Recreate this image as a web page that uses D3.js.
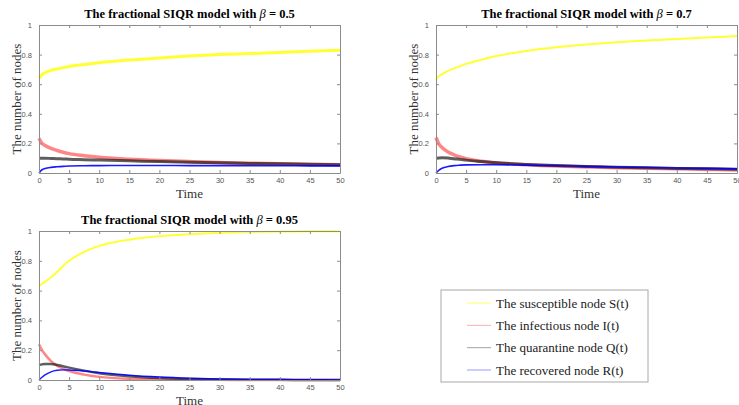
<!DOCTYPE html>
<html>
<head>
<meta charset="utf-8">
<script src="https://cdn.jsdelivr.net/npm/d3@7"></script>
<style>
  body { margin: 0; background: #fff; }
  svg { display: block; }
</style>
</head>
<body>
<script>
// time grid shared by all panels
var time = [0, 0.5, 1, 2, 3, 4, 5, 7.5, 10, 15, 20, 25, 30, 35, 40, 45, 50];

// beta = 0.5
var s05 = [0.64, 0.665, 0.677, 0.693, 0.703, 0.712, 0.72, 0.733, 0.745, 0.763, 0.777, 0.79, 0.80, 0.807, 0.815, 0.822, 0.83];
var i05 = [0.235, 0.2, 0.186, 0.166, 0.152, 0.14, 0.131, 0.117, 0.106, 0.093, 0.084, 0.077, 0.071, 0.066, 0.062, 0.058, 0.055];
var q05 = [0.1, 0.1, 0.1, 0.098, 0.096, 0.095, 0.093, 0.09, 0.087, 0.082, 0.077, 0.073, 0.069, 0.065, 0.062, 0.059, 0.056];
var r05 = [0, 0.022, 0.03, 0.038, 0.042, 0.045, 0.047, 0.049, 0.05, 0.051, 0.051, 0.05, 0.05, 0.049, 0.049, 0.048, 0.048];

// beta = 0.7
var s07 = [0.63, 0.655, 0.668, 0.69, 0.707, 0.722, 0.737, 0.765, 0.79, 0.825, 0.85, 0.868, 0.884, 0.896, 0.906, 0.915, 0.925];
var i07 = [0.24, 0.195, 0.172, 0.142, 0.123, 0.108, 0.097, 0.08, 0.069, 0.056, 0.047, 0.041, 0.036, 0.032, 0.028, 0.024, 0.021];
var q07 = [0.1, 0.102, 0.103, 0.101, 0.096, 0.092, 0.087, 0.078, 0.07, 0.058, 0.05, 0.044, 0.039, 0.035, 0.031, 0.028, 0.025];
var r07 = [0, 0.02, 0.032, 0.044, 0.05, 0.053, 0.055, 0.056, 0.056, 0.053, 0.049, 0.045, 0.041, 0.037, 0.034, 0.031, 0.028];

// beta = 0.95
var s095 = [0.63, 0.645, 0.66, 0.69, 0.725, 0.765, 0.8, 0.86, 0.9, 0.942, 0.965, 0.979, 0.988, 0.993, 0.996, 0.998, 0.999];
var i095 = [0.24, 0.2, 0.172, 0.127, 0.096, 0.075, 0.06, 0.036, 0.021, 0.008, 0.004, 0.002, 0.001, 0.0005, 0, 0, 0];
var q095 = [0.1, 0.105, 0.108, 0.108, 0.101, 0.092, 0.083, 0.063, 0.046, 0.025, 0.013, 0.007, 0.004, 0.002, 0.001, 0.0005, 0];
var r095 = [0, 0.018, 0.034, 0.055, 0.065, 0.068, 0.067, 0.06, 0.05, 0.032, 0.02, 0.012, 0.007, 0.004, 0.003, 0.002, 0.001];

var betas = ["0.5", "0.7", "0.95"];
var legendLabels = ["The susceptible node S(t)", "The infectious node I(t)", "The quarantine node Q(t)", "The recovered node R(t)"];
var xTicks = [0, 5, 10, 15, 20, 25, 30, 35, 40, 45, 50];
var yTicks = [0, 0.2, 0.4, 0.6, 0.8, 1];

var colors = ["#ffff00", "#ff3535", "#1a1a1a", "#0000ff"];
var opac = [0.8, 0.6, 0.7, 0.9];

var w = 739, h = 405;
var svg = d3.select("body").append("svg").attr("width", w).attr("height", h);

var panels = [
  { beta: betas[0], series: [s05, i05, q05, r05], widths: [3, 3.5, 3, 1.6], x0: 39, x1: 340, y0: 173, y1: 25 },
  { beta: betas[1], series: [s07, i07, q07, r07], widths: [2, 3.5, 3, 1.6], x0: 436, x1: 737, y0: 173, y1: 25 },
  { beta: betas[2], series: [s095, i095, q095, r095], widths: [2, 2.5, 2.5, 1.4], x0: 39, x1: 340, y0: 380, y1: 231 }
];

var axisColor = "#8c8c8c";
var serif = "'Liberation Serif', 'Times New Roman', serif";

panels.forEach(function (p) {
  var x = d3.scaleLinear().domain([0, 50]).range([p.x0, p.x1]);
  var y = d3.scaleLinear().domain([0, 1]).range([p.y0, p.y1]);
  var g = svg.append("g");

  var line = d3.line()
    .x(function (d, i) { return x(time[i]); })
    .y(function (d) { return y(d); })
    .curve(d3.curveMonotoneX);

  p.series.forEach(function (vals, k) {
    g.append("path")
      .datum(vals)
      .attr("d", line)
      .attr("fill", "none")
      .attr("stroke", colors[k])
      .attr("stroke-width", p.widths[k])
      .attr("stroke-opacity", opac[k]);
  });

  // box with inward ticks on all four sides
  var fmt = function (d) { return d === 0 ? "0" : d === 1 ? "1" : d3.format(".1f")(d); };
  var bottom = g.append("g").attr("transform", "translate(0," + p.y0 + ")")
    .call(d3.axisBottom(x).tickValues(xTicks).tickSizeInner(-3).tickSizeOuter(0).tickPadding(5));
  var top = g.append("g").attr("transform", "translate(0," + p.y1 + ")")
    .call(d3.axisTop(x).tickValues(xTicks).tickSizeInner(-3).tickSizeOuter(0).tickFormat(""));
  var left = g.append("g").attr("transform", "translate(" + p.x0 + ",0)")
    .call(d3.axisLeft(y).tickValues(yTicks).tickSizeInner(-3).tickSizeOuter(0).tickPadding(7).tickFormat(fmt));
  var right = g.append("g").attr("transform", "translate(" + p.x1 + ",0)")
    .call(d3.axisRight(y).tickValues(yTicks).tickSizeInner(-3).tickSizeOuter(0).tickFormat(""));

  [bottom, top, left, right].forEach(function (a) {
    a.select(".domain").attr("stroke", axisColor);
    a.selectAll(".tick line").attr("stroke", axisColor);
    a.selectAll("text")
      .attr("fill", "#555")
      .style("font-family", "'Liberation Sans', Arial, sans-serif")
      .style("font-size", "7.5px");
  });

  // title
  var t = g.append("text")
    .attr("x", (p.x0 + p.x1) / 2)
    .attr("y", p.y1 - 7)
    .attr("text-anchor", "middle")
    .style("font-family", serif)
    .style("font-weight", "bold")
    .style("font-size", "12.5px")
    .attr("fill", "#000");
  t.append("tspan").text("The fractional SIQR model with ");
  t.append("tspan").style("font-style", "italic").style("font-weight", "normal").text("β");
  t.append("tspan").text(" = " + p.beta);

  // axis labels
  g.append("text")
    .attr("x", (p.x0 + p.x1) / 2)
    .attr("y", p.y0 + 25)
    .attr("text-anchor", "middle")
    .style("font-family", serif)
    .style("font-size", "13px")
    .attr("fill", "#333")
    .text("Time");

  g.append("text")
    .attr("transform", "translate(" + (p.x0 - 18) + "," + ((p.y0 + p.y1) / 2) + ") rotate(-90)")
    .attr("text-anchor", "middle")
    .style("font-family", serif)
    .style("font-size", "13px")
    .attr("fill", "#333")
    .text("The number of nodes");
});

// legend
var lg = svg.append("g");
lg.append("rect")
  .attr("x", 441).attr("y", 290).attr("width", 207).attr("height", 92)
  .attr("fill", "#fff").attr("stroke", "#a8a8a8").attr("stroke-width", 1);

var rowY = d3.scalePoint().domain(legendLabels).range([303, 370]);
legendLabels.forEach(function (lab, k) {
  lg.append("line")
    .attr("x1", 467).attr("x2", 491)
    .attr("y1", rowY(lab)).attr("y2", rowY(lab))
    .attr("stroke", colors[k])
    .attr("stroke-opacity", k === 0 ? 0.6 : 0.4)
    .attr("stroke-width", 1);
  lg.append("text")
    .attr("x", 496).attr("y", rowY(lab))
    .attr("dy", "0.35em")
    .style("font-family", serif)
    .style("font-size", "13px")
    .attr("fill", "#222")
    .text(lab);
});
</script>
</body>
</html>
